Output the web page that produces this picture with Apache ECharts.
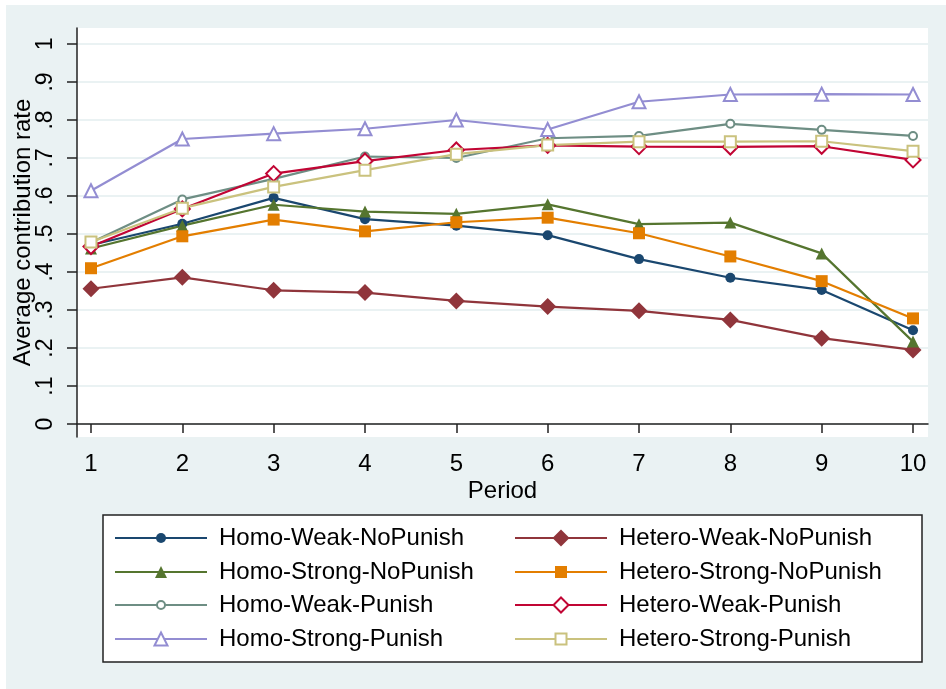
<!DOCTYPE html>
<html>
<head>
<meta charset="utf-8">
<script src="https://cdn.jsdelivr.net/npm/echarts@6/dist/echarts.min.js"></script>
<style>
html, body { margin: 0; padding: 0; background: #fff; }
#chart { position: absolute; left: 6px; top: 5px; width: 940px; height: 684px; }
</style>
</head>
<body>
<div id="chart"></div>
<script>
// periods on the x axis
const periods = [1, 2, 3, 4, 5, 6, 7, 8, 9, 10];
const yTicks = [0, 0.1, 0.2, 0.3, 0.4, 0.5, 0.6, 0.7, 0.8, 0.9, 1];
const yTickLabels = ['0', '.1', '.2', '.3', '.4', '.5', '.6', '.7', '.8', '.9', '1'];

// average contribution rate per treatment
const homoWeakNoPunish     = [0.471, 0.527, 0.595, 0.539, 0.522, 0.497, 0.434, 0.385, 0.353, 0.247];
const heteroWeakNoPunish   = [0.356, 0.386, 0.352, 0.346, 0.324, 0.309, 0.298, 0.274, 0.226, 0.195];
const homoStrongNoPunish   = [0.462, 0.522, 0.577, 0.559, 0.553, 0.578, 0.526, 0.530, 0.449, 0.217];
const heteroStrongNoPunish = [0.410, 0.494, 0.538, 0.507, 0.531, 0.543, 0.502, 0.441, 0.376, 0.278];
const homoWeakPunish       = [0.478, 0.591, 0.645, 0.704, 0.700, 0.752, 0.758, 0.790, 0.774, 0.758];
const heteroWeakPunish     = [0.467, 0.566, 0.659, 0.692, 0.721, 0.733, 0.730, 0.729, 0.731, 0.695];
const homoStrongPunish     = [0.614, 0.750, 0.764, 0.777, 0.800, 0.775, 0.848, 0.867, 0.868, 0.867];
const heteroStrongPunish   = [0.479, 0.568, 0.624, 0.668, 0.710, 0.734, 0.743, 0.743, 0.744, 0.718];

const FONT = "'Liberation Sans', Arial, sans-serif";

// stata s2color look, drawing order = legend order (row by row)
const seriesDefs = [
    { name: 'Homo-Weak-NoPunish',     data: homoWeakNoPunish,     color: '#1a476f', symbol: 'circle',        size: 10, col: 0, row: 0 },
    { name: 'Hetero-Weak-NoPunish',   data: heteroWeakNoPunish,   color: '#90353b', symbol: 'diamond',       size: 17, col: 1, row: 0 },
    { name: 'Homo-Strong-NoPunish',   data: homoStrongNoPunish,   color: '#55752f', symbol: 'triangle',      size: 12, col: 0, row: 1 },
    { name: 'Hetero-Strong-NoPunish', data: heteroStrongNoPunish, color: '#e37e00', symbol: 'rect',          size: 12, col: 1, row: 1 },
    { name: 'Homo-Weak-Punish',       data: homoWeakPunish,       color: '#6e8e84', symbol: 'emptyCircle',   size: 8,  col: 0, row: 2 },
    { name: 'Hetero-Weak-Punish',     data: heteroWeakPunish,     color: '#c10534', symbol: 'emptyDiamond',  size: 15, col: 1, row: 2 },
    { name: 'Homo-Strong-Punish',     data: homoStrongPunish,     color: '#938dd2', symbol: 'emptyTriangle', size: 13, col: 0, row: 3 },
    { name: 'Hetero-Strong-Punish',   data: heteroStrongPunish,   color: '#cac27e', symbol: 'emptyRect',     size: 11, col: 1, row: 3 }
];

const legendColX = [108, 508];
const legendRowY = [533, 567, 600, 634];

const chart = echarts.init(document.getElementById('chart'));

const option = {
    backgroundColor: '#eaf2f3',
    animation: false,
    textStyle: { fontFamily: FONT },
    graphic: [{
        type: 'rect',
        z: 1,
        shape: { x: 97, y: 510, width: 819, height: 147 },
        style: { fill: '#fff', stroke: '#222', lineWidth: 1.5 }
    }],
    grid: {
        left: 71, right: 18, top: 23, bottom: 252,
        outerBoundsMode: 'none',
        containLabel: false,
        show: true, backgroundColor: '#fff', borderWidth: 0
    },
    legend: seriesDefs.map(s => ({
        data: [s.name],
        left: legendColX[s.col],
        top: legendRowY[s.row] - 12,
        padding: 0,
        itemWidth: 92,
        itemHeight: s.size / 0.8,
        selectedMode: false,
        textStyle: { fontFamily: FONT, fontSize: 24, color: '#000', lineHeight: 24, padding: [0, 0, 0, 7] }
    })),
    xAxis: {
        type: 'value',
        min: 0.847,
        max: 10.164,
        name: 'Period',
        nameLocation: 'middle',
        nameGap: 42,
        nameMoveOverlap: false,
        nameTextStyle: { fontFamily: FONT, fontSize: 24, color: '#000' },
        axisLine: { show: true, lineStyle: { color: '#222', width: 1.5 } },
        axisTick: { show: true, length: 9, customValues: periods, lineStyle: { color: '#222', width: 1.5 } },
        axisLabel: { customValues: periods, margin: 15, fontFamily: FONT, fontSize: 24, color: '#000' },
        splitLine: { show: false }
    },
    yAxis: {
        type: 'value',
        min: -0.034,
        max: 1.042,
        name: 'Average contribution rate',
        nameLocation: 'middle',
        nameGap: 42,
        nameMoveOverlap: false,
        nameTextStyle: { fontFamily: FONT, fontSize: 24, color: '#000' },
        axisLine: { show: true, lineStyle: { color: '#222', width: 1.5 } },
        axisTick: { show: true, length: 10, customValues: yTicks, lineStyle: { color: '#222', width: 1.5 } },
        axisLabel: {
            customValues: yTicks,
            rotate: 90,
            margin: 20,
            fontFamily: FONT, fontSize: 23, color: '#000',
            formatter: function (v) {
                const i = yTicks.findIndex(t => Math.abs(t - v) < 1e-6);
                return i >= 0 ? yTickLabels[i] : '';
            }
        },
        splitLine: { show: true, lineStyle: { color: '#eaf2f3', width: 2 } }
    },
    series: seriesDefs.map(s => ({
        name: s.name,
        type: 'line',
        data: periods.map((p, i) => [p, s.data[i]]),
        symbol: s.symbol,
        symbolSize: s.size,
        showAllSymbol: true,
        lineStyle: { color: s.color, width: 2.2 },
        itemStyle: { color: s.color, borderColor: s.color, borderWidth: s.symbol.indexOf('empty') === 0 ? 2 : 0 }
    }))
};

chart.setOption(option);
</script>
</body>
</html>
